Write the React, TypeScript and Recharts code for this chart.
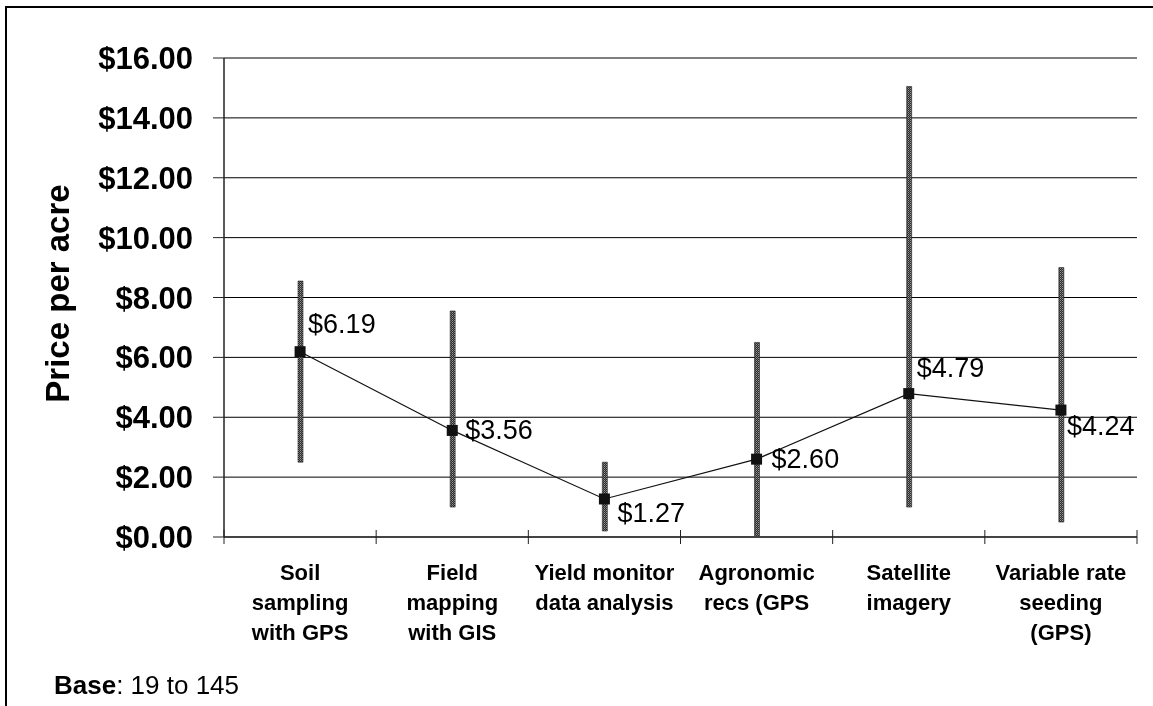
import React from 'react';
import { ComposedChart, Bar, Line, XAxis, YAxis, CartesianGrid, LabelList, Label } from 'recharts';

const CATEGORIES = [
  'Soil\nsampling\nwith GPS',
  'Field\nmapping\nwith GIS',
  'Yield monitor\ndata analysis',
  'Agronomic\nrecs (GPS',
  'Satellite\nimagery',
  'Variable rate\nseeding\n(GPS)',
];
const AVERAGE = [6.19, 3.56, 1.27, 2.6, 4.79, 4.24];
const LOW = [2.5, 1.0, 0.2, 0.0, 1.0, 0.5];
const HIGH = [8.55, 7.55, 2.5, 6.5, 15.05, 9.0];
const Y_TICKS = [0, 2, 4, 6, 8, 10, 12, 14, 16];
const BASE_TEXT = '19 to 145';

// label placement offsets (style, not data)
const LABEL_OFFSETS = [
  [8, -28],
  [13, 0],
  [13, 14],
  [15, 0],
  [8, -26],
  [6, 16],
];

const FONT = 'Arial, "Liberation Sans", Helvetica, sans-serif';
const CHART_W = 1146;
const CHART_H = 698;
const MARGIN = { top: 50, right: 16, left: 0, bottom: 69 };
const Y_W = 217;
const X_H = 100;
const PLOT_W = CHART_W - MARGIN.left - MARGIN.right - Y_W;

const data = CATEGORIES.map((c, i) => ({
  name: c,
  avg: AVERAGE[i],
  range: [LOW[i], HIGH[i]],
}));

const SquareDot = (props: any) => {
  const { cx, cy } = props;
  if (cx == null || cy == null) return null;
  return <rect x={cx - 5.5} y={cy - 5.5} width={11} height={11} fill="#111" />;
};

const XTick = (props: any) => {
  const { x, y, payload, index } = props;
  const lines = String(payload.value).split('\n');
  const band = PLOT_W / CATEGORIES.length;
  const axisY = y;
  return (
    <g>
      <line x1={x - band / 2} x2={x - band / 2} y1={axisY - 7} y2={axisY + 7} stroke="#222" strokeWidth={1} />
      {index === CATEGORIES.length - 1 && (
        <line x1={x + band / 2} x2={x + band / 2} y1={axisY - 7} y2={axisY + 7} stroke="#222" strokeWidth={1} />
      )}
      <text textAnchor="middle" fontFamily={FONT} fontWeight="bold" fontSize={22} fill="#000">
        {lines.map((l: string, i: number) => (
          <tspan key={i} x={x} y={axisY + 43 + i * 30}>
            {l}
          </tspan>
        ))}
      </text>
    </g>
  );
};

const PointLabel = (props: any) => {
  const { x, y, value, index } = props;
  const [dx, dy] = LABEL_OFFSETS[index] || [8, 0];
  return (
    <text
      x={x + dx}
      y={y + dy}
      textAnchor="start"
      dominantBaseline="central"
      fontFamily={FONT}
      fontSize={27}
      fill="#000"
    >
      {`$${Number(value).toFixed(2)}`}
    </text>
  );
};

const YLabel = (props: any) => {
  const { viewBox } = props;
  const cy = viewBox.y + viewBox.height / 2 - 4;
  const cx = viewBox.x + 50;
  return (
    <text
      x={cx}
      y={cy}
      transform={`rotate(-90, ${cx}, ${cy})`}
      textAnchor="middle"
      dominantBaseline="central"
      fontFamily={FONT}
      fontWeight="bold"
      fontSize={33}
      fill="#000"
    >
      Price per acre
    </text>
  );
};

export default function App() {
  return (
    <div style={{ position: 'relative', width: CHART_W, height: CHART_H, fontFamily: FONT, margin: '0 0 0 -1px' }}>
      <div
        style={{
          position: 'fixed',
          left: 5,
          top: 6,
          width: 1400,
          height: 900,
          borderLeft: '2px solid #000',
          borderTop: '2px solid #000',
          pointerEvents: 'none',
          boxSizing: 'border-box',
        }}
      />
      <ComposedChart width={CHART_W} height={CHART_H} data={data} margin={MARGIN}>
        <defs>
          <pattern id="rangeHatch" width="2" height="2" patternUnits="userSpaceOnUse">
            <rect width="2" height="2" fill="#2a2a2a" />
            <rect x="1" y="0" width="1" height="1" fill="#9a9a9a" />
            <rect x="0" y="1" width="1" height="1" fill="#6a6a6a" />
          </pattern>
        </defs>
        <CartesianGrid vertical={false} stroke="#000" strokeWidth={1} />
        <XAxis
          dataKey="name"
          interval={0}
          height={X_H}
          tickLine={false}
          tickSize={0}
          tickMargin={0}
          axisLine={{ stroke: '#444', strokeWidth: 2 }}
          tick={<XTick />}
        />
        <YAxis
          domain={[0, 16]}
          ticks={Y_TICKS}
          width={Y_W}
          interval={0}
          tickSize={11}
          tickMargin={20}
          tickLine={{ stroke: '#222', strokeWidth: 1 }}
          axisLine={{ stroke: '#222', strokeWidth: 1.5 }}
          tickFormatter={(v: number) => `$${v.toFixed(2)}`}
          tick={{ fontFamily: FONT, fontWeight: 'bold', fontSize: 31, fill: '#000' }}
        >
          <Label content={<YLabel />} />
        </YAxis>
        <Bar
          dataKey="range"
          barSize={5}
          fill="url(#rangeHatch)"
          stroke="#222"
          strokeWidth={0.6}
          isAnimationActive={false}
        />
        <Line
          dataKey="avg"
          stroke="#111"
          strokeWidth={1.2}
          dot={<SquareDot />}
          activeDot={false}
          isAnimationActive={false}
        >
          <LabelList dataKey="avg" content={<PointLabel />} />
        </Line>
      </ComposedChart>
      <div
        style={{
          position: 'absolute',
          left: 47,
          top: 664,
          fontSize: 26,
          lineHeight: '26px',
          whiteSpace: 'nowrap',
          color: '#000',
        }}
      >
        <b>Base</b>: {BASE_TEXT}
      </div>
    </div>
  );
}
